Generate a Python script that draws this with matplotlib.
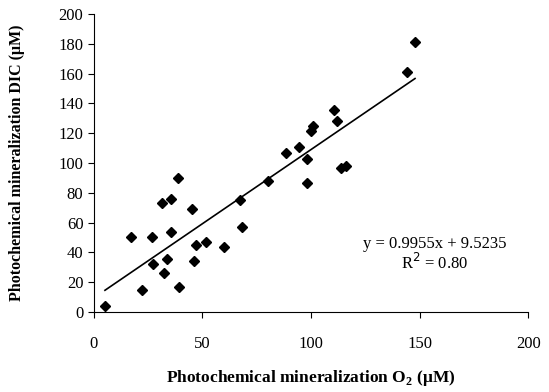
import numpy as np
import matplotlib
matplotlib.use("Agg")
from matplotlib import pyplot as plt

# Data (O2 vs DIC, in uM)
o2 = [5.1, 16.9, 22.3, 26.6, 27.2, 31.6, 32.1, 33.8, 35.6, 35.6, 38.9, 39.2,
      45.2, 46.2, 46.9, 51.8, 59.9, 67.3, 68.3, 80.1, 88.3, 94.6, 98.3, 98.3,
      99.8, 101.0, 110.4, 111.8, 113.8, 116.1, 144.4, 147.9]
dic = [4.2, 50.5, 14.8, 50.5, 32.2, 72.9, 26.4, 35.3, 75.6, 53.7, 89.7, 17.0,
       68.9, 34.4, 45.0, 47.2, 43.4, 75.2, 56.8, 88.2, 106.5, 110.9, 102.7, 86.8,
       121.7, 124.8, 135.6, 128.4, 96.4, 98.2, 161.3, 181.2]
slope = 0.9955
intercept = 9.5235
x_ticks = [0, 50, 100, 150, 200]
y_ticks = list(range(0, 201, 20))

plt.rcParams['font.family'] = ['Liberation Serif', 'DejaVu Serif']

fig = plt.figure(figsize=(5.49, 3.92), dpi=100)
ax = fig.add_axes([0.171, 0.204, 0.791, 0.76])

ax.plot(o2, dic, linestyle='none', marker='D', markersize=5.5, color='black')

# Trendline over the data range
xl = np.array([min(o2), max(o2)])
ax.plot(xl, slope * xl + intercept, color='black', linewidth=1.2)

ax.text(157, 46, "y = 0.9955x + 9.5235", ha='center', va='center', fontsize=12)
ax.text(157, 33, "R$^2$ = 0.80", ha='center', va='center', fontsize=12)

ax.set_xlim(0, 200)
ax.set_ylim(0, 200)
ax.set_xticks(x_ticks)
ax.set_yticks(y_ticks)
ax.spines['top'].set_visible(False)
ax.spines['right'].set_visible(False)
ax.tick_params(axis='both', direction='out', length=4, labelsize=12)
ax.tick_params(axis='x', pad=13)

ax.set_xlabel("Photochemical mineralization O$_\\mathregular{2}$ (\u03bcM)",
              fontsize=12.5, fontweight='bold', labelpad=12)
ax.set_ylabel("Photochemical mineralization DIC (\u03bcM)",
              fontsize=11.5, fontweight='bold', labelpad=24)

fig.savefig("out.png", dpi=100)
